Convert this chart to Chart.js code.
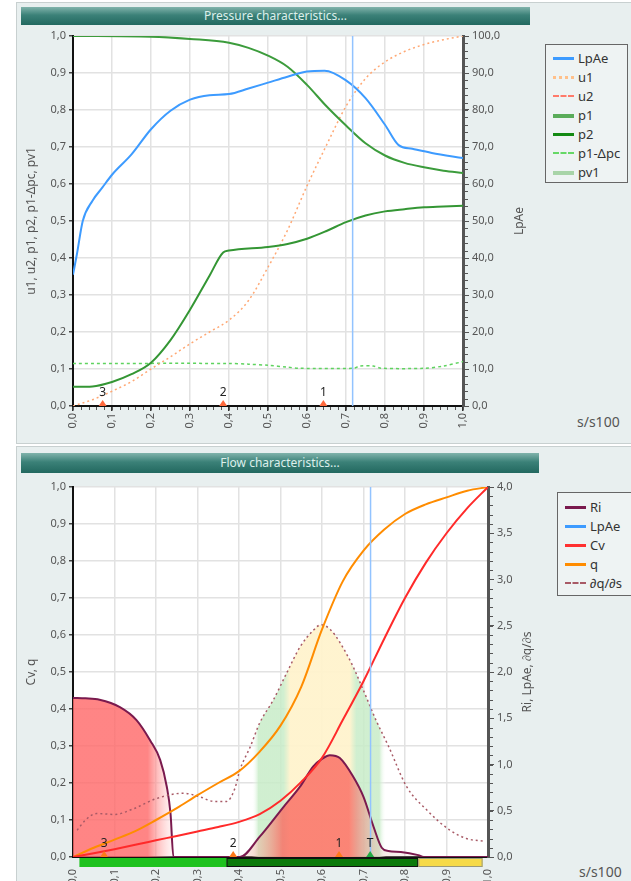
<!DOCTYPE html>
<html>
<head>
<meta charset="utf-8">
<script src="https://cdn.jsdelivr.net/npm/chart.js@4.4.1/dist/chart.umd.min.js"></script>
<style>
body { margin: 0; width: 631px; height: 881px; overflow: hidden; background: #fff; position: relative; font-family: "Noto Sans", sans-serif; }
.panel { position: absolute; left: 16px; width: 620px; background: #e8efef; border: 1px solid #c8d0d0; }
.bar { position: absolute; left: 21px; color: #dcefeb; font-size: 12px; text-align: center;
       background: linear-gradient(#80b3ab, #3b8178 45%, #22685f); }
canvas { position: absolute; left: 0; }
.legend { position: absolute; border: 1px solid #666; background: #eef3f3; font-size: 13px; color: #333; box-sizing: border-box; }
.legend div { position: relative; height: 19px; line-height: 19px; padding-left: 32px; }
.legend i { position: absolute; left: 7px; top: 8px; width: 21px; height: 0; }
.unit { position: absolute; font-size: 14px; color: #555; }
</style>
</head>
<body>
<div class="panel" style="top:2px;height:440px"></div>
<div class="panel" style="top:446px;height:440px"></div>
<div class="bar" style="top:7px;width:509px;height:18px;line-height:18px">Pressure characteristics...</div>
<div class="bar" style="top:453px;width:518px;height:20px;line-height:20px">Flow characteristics...</div>

<canvas id="pressure" width="540" height="440" style="top:0"></canvas>
<canvas id="flow" width="548" height="435" style="top:446px"></canvas>

<div class="legend" style="left:545px;top:44px;width:83px;height:139px;padding-top:4px">
  <div><i style="border-top:3px solid #3d9bff"></i>LpAe</div>
  <div><i style="border-top:3px dotted #ffc08a"></i>u1</div>
  <div><i style="border-top:2px dashed #ff7a6a"></i>u2</div>
  <div><i style="border-top:4px solid #5aac5a"></i>p1</div>
  <div><i style="border-top:3px solid #138a13"></i>p2</div>
  <div><i style="border-top:2px dashed #66d866"></i>p1-Δpc</div>
  <div><i style="border-top:4px solid #a8d4a8"></i>pv1</div>
</div>
<div class="legend" style="left:557px;top:492px;width:84px;height:104px;padding-top:5px">
  <div><i style="border-top:3px solid #7a1a4e"></i>Ri</div>
  <div><i style="border-top:3px solid #3d9bff"></i>LpAe</div>
  <div><i style="border-top:3px solid #ff3030"></i>Cv</div>
  <div><i style="border-top:3px solid #ff8c00"></i>q</div>
  <div><i style="border-top:2px dashed #a85a66"></i>∂q/∂s</div>
</div>
<div class="unit" style="left:577px;top:412px">s/s100</div>
<div class="unit" style="left:579px;top:862px">s/s100</div>

<script>
// values, s = relative travel s/s100
const sGrid = [0, 0.05, 0.1, 0.15, 0.2, 0.25, 0.3, 0.35, 0.4, 0.45, 0.5, 0.55, 0.6, 0.65, 0.7, 0.75, 0.8, 0.85, 0.9, 0.95, 1.0];
const cursorS = 0.717;

// pressure characteristics
const lpaeS = [0, 0.01, 0.025, 0.05, 0.075, 0.1, 0.15, 0.2, 0.25, 0.3, 0.35, 0.4, 0.45, 0.5, 0.55, 0.6, 0.645, 0.7, 0.75, 0.8, 0.835, 0.87, 0.92, 1.0];
const lpaeV = [35.5, 41, 50, 55.5, 59, 62.5, 68, 74.8, 79.8, 82.8, 84, 84.3, 85.8, 87.4, 89, 90.4, 90.6, 88, 83.2, 76, 70.5, 69.5, 68.4, 67];
const u1V = [0, 0.017, 0.04, 0.066, 0.1, 0.133, 0.168, 0.2, 0.232, 0.285, 0.375, 0.475, 0.595, 0.705, 0.81, 0.885, 0.93, 0.958, 0.977, 0.99, 1.0];
const p1S = [0, 0.2, 0.3, 0.4, 0.45, 0.5, 0.55, 0.6, 0.65, 0.7, 0.75, 0.8, 0.85, 0.9, 0.95, 1.0];
const p1V = [1.0, 0.998, 0.992, 0.982, 0.968, 0.947, 0.917, 0.868, 0.81, 0.758, 0.71, 0.677, 0.657, 0.645, 0.636, 0.63];
const p2S = [0, 0.05, 0.1, 0.15, 0.2, 0.25, 0.3, 0.35, 0.385, 0.4, 0.5, 0.55, 0.6, 0.65, 0.7, 0.75, 0.8, 0.85, 0.9, 0.95, 1.0];
const p2V = [0.052, 0.053, 0.065, 0.086, 0.117, 0.178, 0.26, 0.352, 0.415, 0.42, 0.43, 0.438, 0.452, 0.473, 0.497, 0.515, 0.526, 0.532, 0.537, 0.539, 0.541];
const pcS = [0, 0.4, 0.45, 0.5, 0.55, 0.58, 0.72, 0.735, 0.77, 0.79, 0.9, 0.95, 1.0];
const pcV = [0.115, 0.115, 0.113, 0.11, 0.105, 0.102, 0.102, 0.108, 0.108, 0.102, 0.102, 0.108, 0.12];
const pressMarkS = [0.076, 0.385, 0.642];
const pressMarkLbl = ['3', '2', '1'];

// flow characteristics
const riS = [0, 0.03, 0.064, 0.113, 0.153, 0.186, 0.21, 0.226, 0.235, 0.242, 0.3, 0.402, 0.45, 0.507, 0.547, 0.579, 0.6, 0.619, 0.643, 0.675, 0.7, 0.724, 0.744, 0.76, 0.79, 0.832, 0.845, 1.0];
const riV = [1.72, 1.715, 1.70, 1.62, 1.48, 1.26, 1.05, 0.76, 0.47, 0, 0, 0, 0.22, 0.54, 0.76, 0.98, 1.06, 1.10, 1.07, 0.87, 0.65, 0.33, 0.1, 0.065, 0.055, 0.02, 0, 0];
const cvV = [0, 0.01, 0.021, 0.033, 0.045, 0.057, 0.069, 0.081, 0.095, 0.116, 0.152, 0.203, 0.268, 0.37, 0.475, 0.59, 0.7, 0.795, 0.875, 0.943, 1.0];
const qV = [0, 0.025, 0.047, 0.07, 0.1, 0.132, 0.167, 0.2, 0.232, 0.285, 0.355, 0.46, 0.615, 0.745, 0.828, 0.885, 0.927, 0.953, 0.972, 0.99, 1.0];
const dqS = [0.01, 0.03, 0.057, 0.1, 0.145, 0.2, 0.266, 0.306, 0.34, 0.37, 0.39, 0.402, 0.427, 0.45, 0.483, 0.515, 0.547, 0.579, 0.597, 0.62, 0.667, 0.7, 0.73, 0.76, 0.804, 0.852, 0.908, 0.948, 0.99];
const dqV = [0.29, 0.4, 0.47, 0.46, 0.52, 0.63, 0.69, 0.65, 0.6, 0.6, 0.74, 0.94, 1.19, 1.45, 1.70, 1.99, 2.27, 2.45, 2.51, 2.46, 2.13, 1.8, 1.48, 1.2, 0.76, 0.51, 0.29, 0.2, 0.17];
const dqZoneS = [0.439, 0.515, 0.675, 0.746];      // green | cream | green bands under dq/ds
const travelEdges = [0.016, 0.37, 0.832, 0.987];  // bright green | dark green | yellow
const flowMarkS = [0.075, 0.386, 0.641, 0.716];
const flowMarkLbl = ['3', '2', '1', 'T'];

Chart.defaults.font.family = '"Noto Sans", sans-serif';
Chart.defaults.color = '#555';

const comma = v => Number(v).toFixed(1).replace('.', ',');
const pts = (xs, ys) => xs.map((x, i) => ({ x: x, y: ys[i] }));

function xGradient(chart, stops) {
    const sc = chart.scales.x;
    if (!sc || !chart.chartArea) return 'rgba(0,0,0,0)';
    const g = chart.ctx.createLinearGradient(sc.getPixelForValue(0), 0, sc.getPixelForValue(1), 0);
    stops.forEach(st => g.addColorStop(Math.min(1, Math.max(0, st[0])), st[1]));
    return g;
}

// plugins
const plotBg = {
    id: 'plotBg',
    beforeDraw(chart) {
        const a = chart.chartArea, ctx = chart.ctx;
        ctx.save();
        ctx.fillStyle = '#fff';
        ctx.fillRect(a.left, a.top, a.right - a.left, a.bottom - a.top);
        ctx.restore();
    }
};

const minorTicks = {
    id: 'minorTicks',
    afterDraw(chart, args, opts) {
        const ctx = chart.ctx, a = chart.chartArea;
        ctx.save();
        ctx.strokeStyle = '#555';
        ctx.lineWidth = 1;
        ctx.beginPath();
        if (opts.x) {
            const sc = chart.scales.x;
            for (let v = sc.min; v <= sc.max + 1e-9; v += opts.x) {
                const px = Math.round(sc.getPixelForValue(v)) + 0.5;
                ctx.moveTo(px, a.bottom + 1);
                ctx.lineTo(px, a.bottom + 4);
            }
        }
        if (opts.y1) {
            const sc = chart.scales.y1;
            for (let v = sc.min; v <= sc.max + 1e-9; v += opts.y1) {
                const py = Math.round(sc.getPixelForValue(v)) + 0.5;
                ctx.moveTo(a.right + 1, py);
                ctx.lineTo(a.right + 5, py);
            }
        }
        ctx.stroke();
        ctx.restore();
    }
};

const stations = {
    id: 'stations',
    afterDatasetsDraw(chart, args, opts) {
        const ctx = chart.ctx, sc = chart.scales.x, base = chart.chartArea.bottom;
        ctx.save();
        ctx.font = '12px "Noto Sans"';
        ctx.textAlign = 'center';
        ctx.textBaseline = 'bottom';
        opts.s.forEach((s, i) => {
            const px = sc.getPixelForValue(s);
            ctx.fillStyle = opts.colors[i];
            ctx.beginPath();
            ctx.moveTo(px - 4, base);
            ctx.lineTo(px + 4, base);
            ctx.lineTo(px, base - 6);
            ctx.closePath();
            ctx.fill();
            ctx.fillStyle = '#222';
            ctx.fillText(opts.labels[i], px, base - 7);
        });
        ctx.restore();
    }
};

const rightTitle = {
    id: 'rightTitle',
    afterDraw(chart) {
        const sc = chart.scales.y1, a = chart.chartArea, ctx = chart.ctx;
        ctx.save();
        ctx.translate(sc.right - 10, (a.top + a.bottom) / 2);
        ctx.rotate(-Math.PI / 2);
        ctx.font = '12px "Noto Sans"';
        ctx.fillStyle = '#555';
        ctx.textAlign = 'center';
        ctx.textBaseline = 'middle';
        ctx.fillText(sc.options.title.text, 0, 0);
        ctx.restore();
    }
};

const travelBar = {
    id: 'travelBar',
    afterDraw(chart, args, opts) {
        const sc = chart.scales.x, y = chart.chartArea.bottom + 1, ctx = chart.ctx;
        ctx.save();
        ctx.lineWidth = 1;
        for (let i = 0; i < opts.edges.length - 1; i++) {
            const x0 = sc.getPixelForValue(opts.edges[i]);
            const x1 = sc.getPixelForValue(opts.edges[i + 1]);
            ctx.fillStyle = opts.colors[i];
            ctx.fillRect(x0, y, x1 - x0, 9);
            ctx.strokeStyle = opts.strokes[i];
            ctx.strokeRect(x0 + 0.5, y + 0.5, x1 - x0 - 1, 8);
        }
        ctx.restore();
    }
};

function xAxis(extra) {
    return {
        type: 'linear', min: 0, max: 1,
        afterFit: s => { s.height = extra.h; },
        ticks: { stepSize: 0.1, autoSkip: false, minRotation: 90, maxRotation: 90,
                 padding: extra.pad, font: { size: 11 }, color: '#555', callback: comma },
        grid: { color: '#e2e2e2', lineWidth: 1.5, tickLength: 5, tickColor: '#333', drawTicks: extra.ticks },
        border: { color: '#111', width: 2 }
    };
}

function leftAxis(title) {
    return {
        position: 'left', min: 0, max: 1,
        afterFit: s => { s.width = 53; },
        ticks: { stepSize: 0.1, font: { size: 11 }, color: '#555', padding: 3, callback: comma },
        grid: { color: '#e2e2e2', lineWidth: 1.5, tickLength: 4, tickColor: '#444' },
        border: { color: '#111', width: 2 },
        title: { display: true, text: title, font: { size: 12 }, color: '#555' }
    };
}

function rightAxis(max, step, width, title) {
    return {
        position: 'right', min: 0, max: max,
        afterFit: s => { s.width = width; },
        ticks: { stepSize: step, font: { size: 11 }, color: '#555', padding: 3, callback: comma },
        grid: { drawOnChartArea: false, tickLength: 6, tickColor: '#555' },
        border: { color: '#555', width: 3 },
        title: { display: false, text: title }
    };
}

const common = {
    responsive: false,
    animation: false,
    events: [],
    elements: { point: { radius: 0 }, line: { cubicInterpolationMode: 'monotone' } }
};

// 1. PRESSURE CHARACTERISTICS
new Chart(document.getElementById('pressure'), {
    type: 'line',
    data: {
        datasets: [
            { data: pts([cursorS, cursorS], [0, 1]), borderColor: '#92c3ff', borderWidth: 1.5, cubicInterpolationMode: 'default' },
            { label: 'LpAe', data: pts(lpaeS, lpaeV), yAxisID: 'y1', borderColor: '#3d9bff', borderWidth: 2 },
            { label: 'p1', data: pts(p1S, p1V), borderColor: '#3c9c3c', borderWidth: 2 },
            { label: 'p2', data: pts(p2S, p2V), borderColor: '#349634', borderWidth: 2 },
            { label: 'u1', data: pts(sGrid, u1V), borderColor: '#ffa874', borderWidth: 1.5, borderDash: [2, 3] },
            { label: 'p1-Δpc', data: pts(pcS, pcV), borderColor: '#5fd35f', borderWidth: 1.5, borderDash: [3, 3], cubicInterpolationMode: 'default', tension: 0.3 }
        ]
    },
    options: Object.assign({}, common, {
        layout: { padding: { left: 20, top: 36, right: 10, bottom: 0 } },
        plugins: {
            legend: { display: false }, tooltip: { enabled: false },
            minorTicks: { x: 0.02, y1: 2 },
            stations: { s: pressMarkS, labels: pressMarkLbl, colors: ['#ff6a3d', '#ff6a3d', '#ff6a3d'] }
        },
        scales: {
            x: xAxis({ h: 34, pad: 2, ticks: true }),
            y: leftAxis('u1, u2, p1, p2, p1-Δpc, pv1'),
            y1: rightAxis(100, 10, 67, 'LpAe')
        }
    }),
    plugins: [plotBg, minorTicks, stations, rightTitle]
});

// 2. FLOW CHARACTERISTICS
const CLEAR = 'rgba(255,255,255,0)', GREEN = 'rgba(200,236,200,0.85)', CREAM = 'rgba(255,243,205,0.95)';
const soft = 0.008;
const dqStops = [
    [0, CLEAR], [dqZoneS[0] - soft, CLEAR], [dqZoneS[0] + soft, GREEN],
    [dqZoneS[1] - soft, GREEN], [dqZoneS[1] + soft, CREAM],
    [dqZoneS[2] - soft, CREAM], [dqZoneS[2] + soft, GREEN],
    [dqZoneS[3] - soft, GREEN], [dqZoneS[3] + soft, CLEAR], [1, CLEAR]
];
const riStops = [
    [0, 'rgba(255,106,106,0.82)'], [0.18, 'rgba(255,106,106,0.82)'], [0.245, 'rgba(255,235,235,0.3)'],
    [0.40, 'rgba(235,205,190,0.3)'], [0.45, 'rgba(240,170,150,0.5)'], [0.505, 'rgba(250,108,98,0.82)'],
    [0.665, 'rgba(250,108,98,0.82)'], [0.745, 'rgba(225,195,185,0.35)'], [1, CLEAR]
];

new Chart(document.getElementById('flow'), {
    type: 'line',
    data: {
        datasets: [
            { data: pts([cursorS, cursorS], [0, 1]), borderColor: '#92c3ff', borderWidth: 1.5, cubicInterpolationMode: 'default' },
            { label: 'Cv', data: pts(sGrid, cvV), borderColor: '#ff2a2a', borderWidth: 2 },
            { label: 'q', data: pts(sGrid, qV), borderColor: '#ff8c00', borderWidth: 2 },
            { label: '∂q/∂s', data: pts(dqS, dqV), yAxisID: 'y1', borderColor: '#a85a66', borderWidth: 1.5, borderDash: [2, 3] },
            { label: 'Ri', data: pts(riS, riV), yAxisID: 'y1', borderColor: '#7a1a4e', borderWidth: 2,
              fill: 'origin', backgroundColor: c => xGradient(c.chart, riStops) },
            { data: pts(dqS, dqV), yAxisID: 'y1', borderWidth: 0, borderColor: CLEAR,
              fill: 'origin', backgroundColor: c => xGradient(c.chart, dqStops) }
        ]
    },
    options: Object.assign({}, common, {
        layout: { padding: { left: 20, top: 41, right: 10, bottom: 0 } },
        plugins: {
            legend: { display: false }, tooltip: { enabled: false },
            minorTicks: { y1: 0.1 },
            stations: { s: flowMarkS, labels: flowMarkLbl, colors: ['#ff7a1a', '#ff7a1a', '#ff7a1a', '#22aa44'] },
            travelBar: { edges: travelEdges, colors: ['#1fc21f', '#0a7a0a', '#f6da48'], strokes: ['#1fc21f', '#111', '#9a9a7a'] }
        },
        scales: {
            x: xAxis({ h: 24, pad: 12, ticks: false }),
            y: leftAxis('Cv, q'),
            y1: rightAxis(4, 0.5, 50, 'Ri, LpAe, ∂q/∂s')
        }
    }),
    plugins: [plotBg, minorTicks, stations, travelBar, rightTitle]
});
</script>
</body>
</html>
